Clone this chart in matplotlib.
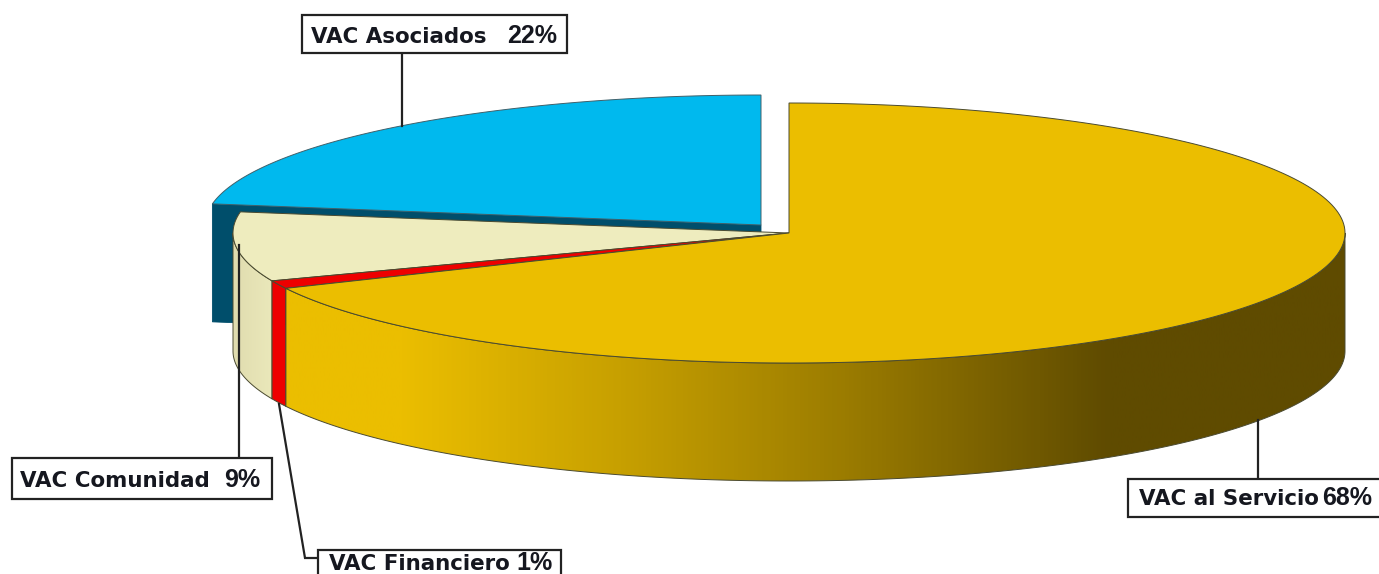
import numpy as np
import matplotlib
matplotlib.use("Agg")
import matplotlib.pyplot as plt
from matplotlib.patches import Polygon, Rectangle
from matplotlib.colors import LinearSegmentedColormap

# ---- data ----
categories = ["VAC al Servicio", "VAC Financiero", "VAC Comunidad", "VAC Asociados"]
values = [68.0, 1.0, 8.6, 22.4]
pct_labels = ["68%", "1%", "9%", "22%"]

# ---- style ----
top_colors = ["#EBBE00", "#EE0000", "#EEECBE", "#00B9EE"]
side_dark = "#004E6B"
edge = "#4a4a30"
W, H = 1379, 574
rx, ry, depth = 556, 130, 118
center = (789, 233)
blue_center = (761, 225)

plt.rcParams["font.family"] = ["Liberation Sans", "DejaVu Sans"]
fig = plt.figure(figsize=(W / 100, H / 100), dpi=100)
ax = fig.add_axes([0, 0, 1, 1])
ax.set_xlim(0, W)
ax.set_ylim(H, 0)
ax.axis("off")


def arc(c, a0, a1, n=200):
    # angles measured clockwise from the top of the pie, degrees
    t = np.radians(np.linspace(a0, a1, n))
    return np.column_stack([c[0] + rx * np.sin(t), c[1] - ry * np.cos(t)])


def side(c, a0, a1):
    p = arc(c, a0, a1)
    return np.vstack([p, p[::-1] + [0, depth]])


def gradient(poly, stops, z):
    patch = Polygon(poly, closed=True, fc="none", ec="none", zorder=z)
    ax.add_patch(patch)
    cmap = LinearSegmentedColormap.from_list(
        "g", [((x - stops[0][0]) / (stops[-1][0] - stops[0][0]), col) for x, col in stops])
    im = ax.imshow(np.linspace(0, 1, 800)[None, :], cmap=cmap, aspect="auto",
                   extent=[stops[0][0], stops[-1][0], H, 0], zorder=z)
    im.set_clip_path(patch)
    ax.add_patch(Polygon(poly, closed=True, fc="none", ec=edge, lw=0.7, zorder=z + 0.1))


starts = np.concatenate([[0], np.cumsum(values)[:-1]]) * 3.6
ends = np.cumsum(values) * 3.6
a_y, a_r, a_c, a_b = list(zip(starts, ends))

# exploded slice with its cut face
b_arc = arc(blue_center, *a_b)
corner = b_arc[0]
ax.add_patch(Polygon([corner, blue_center, (blue_center[0], blue_center[1] + depth),
                      corner + [0, depth]], closed=True, fc=side_dark, ec=side_dark, lw=0.6, zorder=1))
ax.add_patch(Polygon(np.vstack([[blue_center], b_arc]), closed=True, fc=top_colors[3],
                     ec="#40606a", lw=0.7, zorder=2))

# outer walls
gradient(side(center, a_c[0], 270), [(233, "#E0DCAF"), (272, "#EAE8BA")], 3)
ax.add_patch(Polygon(side(center, a_r[0], a_r[1]), closed=True, fc=top_colors[1], ec=edge, lw=0.7, zorder=4))
gradient(side(center, 90, a_y[1]),
         [(286, "#EBBE00"), (400, "#EBBE00"), (620, "#C7A000"), (850, "#9A7B00"),
          (1110, "#5F4B00"), (1346, "#5F4B00")], 5)

# top faces
for (a0, a1), col, z in zip([a_c, a_r, a_y], [top_colors[2], top_colors[1], top_colors[0]], [6, 7, 8]):
    ax.add_patch(Polygon(np.vstack([[center], arc(center, a0, a1)]), closed=True,
                         fc=col, ec=edge, lw=0.7, zorder=z))

# leaders
line = dict(color="#222222", lw=1.6, zorder=9, solid_joinstyle="miter")
ax.plot([1258, 1258], [420, 480], **line)
ax.plot([402, 402], [53, 126], **line)
ax.plot([239, 239], [245, 458], **line)
ax.plot([279, 305, 318], [404, 558, 558], **line)

# labels: box x0, x1, y0, y1; text x, baseline y; pct x
boxes = {
    0: (1128, 1381, 479, 517, 1139, 505, 1322),
    1: (318, 561, 550, 578, 329, 570, 516),
    2: (12, 272, 458, 499, 20, 487, 224),
    3: (302, 567, 15, 53, 311, 43, 507),
}
for i, (x0, x1, y0, y1, tx, by, px) in boxes.items():
    ax.add_patch(Rectangle((x0, y0), x1 - x0, y1 - y0, fc="white", ec="#222222", lw=1.6,
                           zorder=10, clip_on=True))
    ax.text(tx, by, categories[i], fontsize=15.4, fontweight="bold", family="DejaVu Sans",
            color="#15171f", va="baseline", ha="left", zorder=11)
    ax.text(px, by, pct_labels[i], fontsize=18, fontweight="bold", family="Liberation Sans",
            color="#15171f", va="baseline", ha="left", zorder=11)

fig.savefig("out.png", dpi=100, facecolor="white")
